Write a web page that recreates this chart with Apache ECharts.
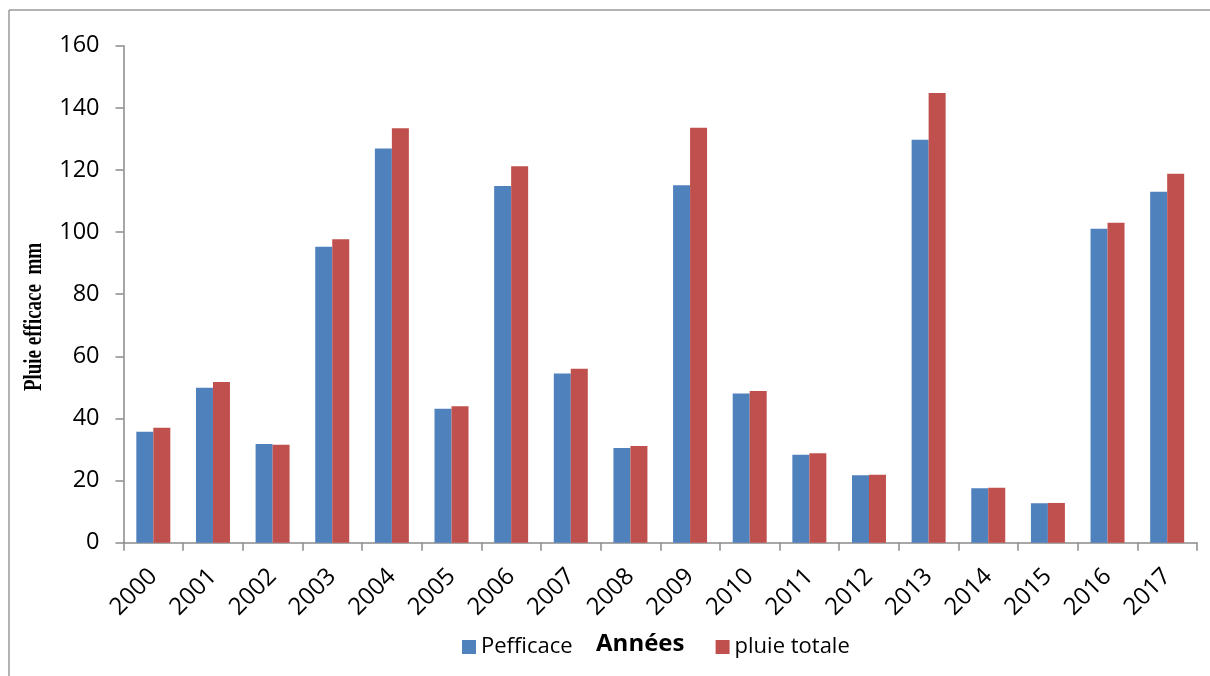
<!DOCTYPE html>
<html>
<head>
<meta charset="utf-8">
<title>Pluie efficace et pluie totale 2000–2017</title>
<script src="https://cdn.jsdelivr.net/npm/echarts@6/dist/echarts.min.js"></script>
<style>
  html, body { margin: 0; padding: 0; background: #fff; }
  #chart { width: 1210px; height: 676px; }
</style>
</head>
<body>
<div id="chart"></div>
<script>
// Years on the category axis
const years = ['2000', '2001', '2002', '2003', '2004', '2005', '2006', '2007', '2008',
               '2009', '2010', '2011', '2012', '2013', '2014', '2015', '2016', '2017'];

// Effective rainfall (mm)
const pEfficace = [35.7, 49.9, 31.8, 95.3, 126.9, 43.1, 114.8, 54.5, 30.5,
                   115.1, 48.0, 28.3, 21.7, 129.7, 17.5, 12.7, 101.1, 113.0];

// Total rainfall (mm)
const pluieTotale = [37.0, 51.7, 31.5, 97.7, 133.4, 43.9, 121.2, 56.0, 31.1,
                     133.6, 48.8, 28.8, 21.9, 144.8, 17.7, 12.8, 103.0, 118.8];

// Y-axis ticks
const yMin = 0, yMax = 160, yStep = 20;

const seriesNames = ['Pefficace', 'pluie totale'];
const yTitle = 'Pluie efficace  mm';
const xTitle = 'Années';
const labelFont = '"Open Sans", "Liberation Sans", sans-serif';

const chart = echarts.init(document.getElementById('chart'), null, { renderer: 'canvas' });

chart.setOption({
  backgroundColor: '#ffffff',
  animation: false,
  color: ['#4F81BD', '#C0504D'],
  graphic: [
    // outer frame (left and top edges)
    { type: 'line', shape: { x1: 9, y1: 10, x2: 9, y2: 676 },
      style: { stroke: '#9a9a9a', lineWidth: 1.5 }, silent: true },
    { type: 'line', shape: { x1: 9, y1: 10, x2: 1210, y2: 10 },
      style: { stroke: '#9a9a9a', lineWidth: 1.5 }, silent: true },
    // narrow bold serif title of the value axis, reading bottom to top
    { type: 'text', x: 35, y: 317, rotation: Math.PI / 2, scaleX: 0.76, silent: true,
      style: { text: yTitle, fill: '#000',
               font: 'bold 25px "Liberation Serif", "Times New Roman", serif',
               align: 'center', verticalAlign: 'middle' } }
  ],
  grid: { left: 123.5, right: 13, top: 45.7, bottom: 133.3, containLabel: false },
  legend: {
    data: seriesNames,
    left: 457,
    top: 631,
    icon: 'rect',
    itemWidth: 14,
    itemHeight: 14,
    itemGap: 143,
    textStyle: { fontFamily: labelFont, fontSize: 22, color: '#000' }
  },
  xAxis: {
    type: 'category',
    data: years,
    name: xTitle,
    nameLocation: 'middle',
    nameGap: 89,
    nameTextStyle: { fontFamily: labelFont, fontSize: 24, fontWeight: 'bold', color: '#000',
                     padding: [0, 40, 0, 0] },
    axisLine: { lineStyle: { color: '#8a8a8a', width: 1.5 } },
    axisTick: { show: true, inside: false, length: 8, alignWithLabel: false,
                lineStyle: { color: '#8a8a8a', width: 1.5 } },
    axisLabel: { rotate: 45, interval: 0, margin: 30, padding: [16, 0, 0, 0],
                 fontFamily: labelFont, fontSize: 24, color: '#000' },
    splitLine: { show: false }
  },
  yAxis: {
    type: 'value',
    min: yMin,
    max: yMax,
    interval: yStep,
    axisLine: { show: true, lineStyle: { color: '#8a8a8a', width: 1.5 } },
    axisTick: { show: true, inside: false, length: 8, lineStyle: { color: '#8a8a8a', width: 1.5 } },
    axisLabel: { margin: 24, fontFamily: labelFont, fontSize: 23.5, color: '#000' },
    splitLine: { show: false }
  },
  series: [
    { name: seriesNames[0], type: 'bar', data: pEfficace,
      barGap: '0%', barCategoryGap: '43%',
      itemStyle: { color: '#4F81BD' } },
    { name: seriesNames[1], type: 'bar', data: pluieTotale,
      barGap: '0%', barCategoryGap: '43%',
      itemStyle: { color: '#C0504D' } }
  ]
});
</script>
</body>
</html>
